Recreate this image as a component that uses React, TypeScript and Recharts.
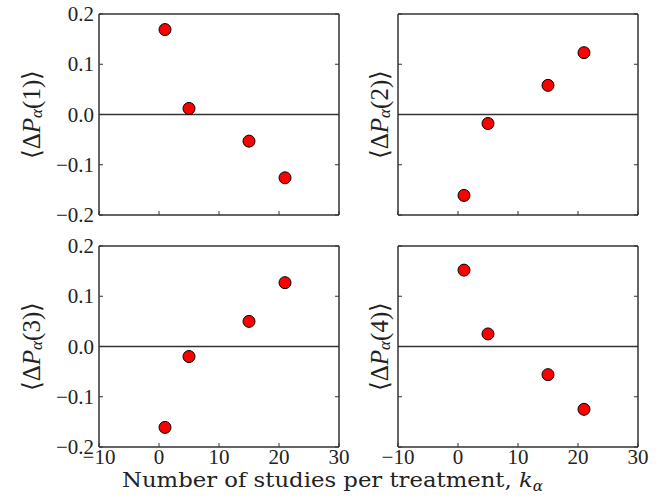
import React from 'react';
import { ScatterChart, Scatter, XAxis, YAxis, ReferenceLine, ReferenceArea } from 'recharts';

// ---- data ----
const kValues = [1, 5, 15, 21];
const dP1 = [0.169, 0.012, -0.053, -0.126];
const dP2 = [-0.161, -0.018, 0.058, 0.123];
const dP3 = [-0.161, -0.02, 0.05, 0.127];
const dP4 = [0.152, 0.025, -0.056, -0.125];
const xTicks = [-10, 0, 10, 20, 30];
const yTicks = [-0.2, -0.1, 0, 0.1, 0.2];
const panelIndex = ['1', '2', '3', '4'];
const xTitle = 'Number of studies per treatment, ';

// ---- style ----
const INK = '#222';
const FRAME = '#333';
const SERIF = '"Liberation Serif", "Times New Roman", serif';
const PLOT_W = 240;
const PLOT_H = 201;
const ML = 100;
const MT = 12;
const MR = 12;
const XH = 40;

const fmtX = (v: number) => (v < 0 ? '\u2212' + Math.abs(v) : String(v));
const fmtY = (v: number) => (v < 0 ? '\u2212' : '') + Math.abs(v).toFixed(1);

const bottomTick = (show: boolean) => (p: any) => (
  <g>
    <line x1={p.x} y1={p.y} x2={p.x} y2={p.y - 4} stroke={FRAME} strokeWidth={1} />
    {show && (
      <text
        x={p.x}
        y={p.y + 17}
        textAnchor="middle"
        style={{ fontFamily: SERIF, fontSize: 21 }}
        fill={INK}
      >
        {fmtX(p.payload.value)}
      </text>
    )}
  </g>
);
const topTick = (p: any) => (
  <line x1={p.x} y1={p.y} x2={p.x} y2={p.y + 4} stroke={FRAME} strokeWidth={1} />
);
const leftTick = (show: boolean) => (p: any) => (
  <g>
    <line x1={p.x} y1={p.y} x2={p.x + 4} y2={p.y} stroke={FRAME} strokeWidth={1} />
    {show && (
      <text
        x={p.x - 5}
        y={p.y + 7}
        textAnchor="end"
        style={{ fontFamily: SERIF, fontSize: 21 }}
        fill={INK}
      >
        {fmtY(p.payload.value)}
      </text>
    )}
  </g>
);
const rightTick = (p: any) => (
  <line x1={p.x} y1={p.y} x2={p.x - 4} y2={p.y} stroke={FRAME} strokeWidth={1} />
);

const yLabel = (n: string, dist: number) => (props: any) => {
  const vb = props.viewBox || {};
  const cx = vb.x + vb.width - dist;
  const cy = vb.y + vb.height / 2;
  return (
    <text
      x={cx}
      y={cy}
      transform={`rotate(-90 ${cx} ${cy})`}
      textAnchor="middle"
      dominantBaseline="central"
      style={{ fontFamily: SERIF, fontSize: 25 }}
      fill={INK}
    >
      <tspan>{'\u27E8\u0394'}</tspan>
      <tspan fontStyle="italic">P</tspan>
      <tspan fontStyle="italic" style={{ fontSize: 17 }} dy={5}>
        {'\u03B1'}
      </tspan>
      <tspan dy={-5}>{'(' + n + ')\u27E9'}</tspan>
    </text>
  );
};

const dot = (p: any) => (
  <circle cx={p.cx} cy={p.cy} r={6} fill="#ff0000" stroke="#000" strokeWidth={1} />
);

function Panel(props: {
  values: number[];
  n: string;
  plotLeft: number;
  plotTop: number;
  showX: boolean;
  showY: boolean;
}) {
  const { values, n, plotLeft, plotTop, showX, showY } = props;
  const data = kValues.map((k, i) => ({ k, v: values[i] }));
  const W = ML + PLOT_W + 1 + MR;
  const H = MT + 1 + PLOT_H + XH;
  return (
    <div
      style={{ position: 'absolute', left: plotLeft - ML, top: plotTop - MT - 1, width: W, height: H }}
    >
      <ScatterChart width={W} height={H} margin={{ top: MT, right: MR, bottom: 0, left: 0 }}>
        <XAxis
          dataKey="k"
          type="number"
          domain={[-10, 30]}
          ticks={xTicks}
          interval={0}
          allowDataOverflow
          height={XH}
          tickSize={0}
          tickMargin={0}
          tickLine={false}
          axisLine={{ stroke: FRAME, strokeWidth: 1 }}
          tick={bottomTick(showX)}
        />
        <XAxis
          xAxisId="t"
          orientation="top"
          type="number"
          domain={[-10, 30]}
          ticks={xTicks}
          interval={0}
          allowDataOverflow
          height={1}
          tickSize={0}
          tickMargin={0}
          tickLine={false}
          axisLine={{ stroke: FRAME, strokeWidth: 1 }}
          tick={topTick}
        />
        <YAxis
          dataKey="v"
          type="number"
          domain={[-0.2, 0.2]}
          ticks={yTicks}
          interval={0}
          allowDataOverflow
          width={ML}
          tickSize={0}
          tickMargin={0}
          tickLine={false}
          axisLine={{ stroke: FRAME, strokeWidth: 1 }}
          tick={leftTick(showY)}
          label={{ content: yLabel(n, showY ? 68.5 : 19.5) }}
        />
        <YAxis
          yAxisId="r"
          orientation="right"
          type="number"
          domain={[-0.2, 0.2]}
          ticks={yTicks}
          interval={0}
          allowDataOverflow
          width={1}
          tickSize={0}
          tickMargin={0}
          tickLine={false}
          axisLine={{ stroke: FRAME, strokeWidth: 1 }}
          tick={rightTick}
        />
        <ReferenceArea
          x1={-10}
          x2={30}
          y1={-0.2}
          y2={0.2}
          fill="none"
          fillOpacity={0}
          stroke={FRAME}
          strokeWidth={1}
          ifOverflow="extendDomain"
        />
        <ReferenceLine y={0} stroke={FRAME} strokeWidth={1.4} />
        <Scatter data={data} dataKey="v" isAnimationActive={false} shape={dot} />
      </ScatterChart>
    </div>
  );
}

export default function App() {
  return (
    <div
      style={{
        position: 'absolute',
        left: 0,
        top: 0,
        width: 665,
        height: 499,
        background: '#fff',
        overflow: 'hidden',
      }}
    >
      <Panel values={dP1} n={panelIndex[0]} plotLeft={98.5} plotTop={13.5} showX={false} showY={true} />
      <Panel values={dP2} n={panelIndex[1]} plotLeft={397.5} plotTop={13.5} showX={false} showY={false} />
      <Panel values={dP3} n={panelIndex[2]} plotLeft={98.5} plotTop={245.5} showX={true} showY={true} />
      <Panel values={dP4} n={panelIndex[3]} plotLeft={397.5} plotTop={245.5} showX={true} showY={false} />
      <svg
        width={665}
        height={499}
        style={{ position: 'absolute', left: 0, top: 0, pointerEvents: 'none' }}
      >
        <text
          x={332.5}
          y={487}
          textAnchor="middle"
          textLength={421}
          lengthAdjust="spacingAndGlyphs"
          style={{ fontFamily: '"DejaVu Serif", serif', fontSize: 21 }}
          fill={INK}
        >
          <tspan>{xTitle}</tspan>
          <tspan fontStyle="italic">k</tspan>
          <tspan fontStyle="italic" style={{ fontSize: 14 }} dy={4}>
            {'\u03B1'}
          </tspan>
        </text>
      </svg>
    </div>
  );
}
